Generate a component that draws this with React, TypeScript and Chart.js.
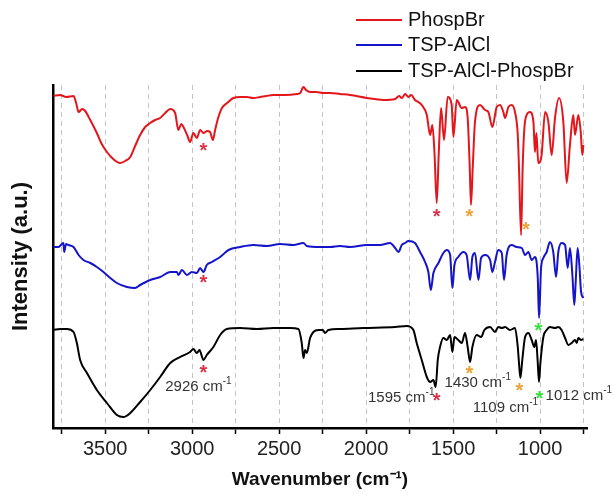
import React, { useEffect, useRef } from 'react';
import { Chart, registerables } from 'chart.js';

Chart.register(...registerables);

const FONT = '"Liberation Sans", Arial, Helvetica, sans-serif';
const W = 613;
const H = 494;

// ---- Series metadata ----
const seriesLabels = ['PhospBr', 'TSP-AlCl', 'TSP-AlCl-PhospBr'];
const seriesColors = ['#e3161c', '#1414c8', '#000000'];

// ---- PhospBr (red) : wavenumber / intensity (a.u.) ----
const phospBrWn = [
  3797, 3759, 3724, 3682, 3667, 3653, 3632, 3615, 3586, 3548,
  3523, 3490, 3454, 3414, 3385, 3356, 3328, 3299, 3270, 3241,
  3213, 3184, 3155, 3126, 3098, 3079, 3063, 3050, 3029, 3012,
  2993, 2973, 2954, 2935, 2914, 2897, 2881, 2868, 2849, 2829,
  2799, 2763, 2724, 2686, 2649, 2609, 2575, 2533, 2466, 2398,
  2379, 2360, 2345, 2322, 2287, 2245, 2207, 2150, 2092, 1996,
  1901, 1833, 1810, 1795, 1775, 1757, 1740, 1719, 1700, 1680,
  1651, 1632, 1619, 1607, 1594, 1582, 1569, 1552, 1531, 1508,
  1498, 1479, 1450, 1431, 1416, 1404, 1397, 1387, 1374, 1345,
  1316, 1297, 1274, 1249, 1230, 1211, 1201, 1182, 1163, 1144,
  1128, 1121, 1109, 1100, 1090, 1077, 1058, 1038, 1029, 1021,
  1010, 991, 971, 952, 933, 914, 891, 866, 847, 828,
  809, 799, 780, 766, 757, 751,
];
const phospBrVal = [
  332, 333, 331, 332, 325, 316, 319, 317, 308, 295,
  285, 276, 269, 265, 267, 271, 282, 293, 301, 305,
  308, 310, 315, 319, 315, 298, 304, 301, 293, 286,
  295, 290, 298, 295, 297, 296, 288, 298, 311, 320,
  325, 330, 331, 331, 330, 331, 332, 333, 333, 334,
  335, 341, 338, 336, 336, 335, 335, 334, 333, 330,
  328, 329, 332, 330, 334, 331, 333, 328, 326, 323,
  313, 293, 303, 276, 225, 276, 320, 288, 331, 323,
  291, 328, 320, 321, 310, 260, 223, 260, 306, 323,
  318, 316, 301, 321, 323, 316, 310, 321, 323, 316,
  293, 260, 193, 260, 300, 313, 316, 306, 276, 295,
  265, 273, 316, 306, 273, 310, 330, 306, 245, 283,
  313, 293, 313, 296, 273, 283,
];

// ---- TSP-AlCl (blue) ----
const tspWn = [
  3797, 3769, 3740, 3736, 3725, 3711, 3682, 3653, 3625, 3586,
  3548, 3510, 3471, 3433, 3375, 3328, 3299, 3241, 3184, 3126,
  3088, 3079, 3059, 3030, 3002, 2973, 2954, 2935, 2916, 2887,
  2839, 2791, 2724, 2648, 2571, 2494, 2418, 2360, 2341, 2264,
  2207, 2150, 2092, 1996, 1920, 1862, 1833, 1814, 1795, 1776,
  1757, 1719, 1690, 1661, 1642, 1628, 1613, 1584, 1556, 1536,
  1517, 1504, 1492, 1470, 1441, 1422, 1402, 1389, 1374, 1354,
  1339, 1316, 1287, 1274, 1259, 1240, 1220, 1207, 1192, 1163,
  1134, 1105, 1086, 1067, 1048, 1029, 1013, 1006, 994, 981,
  962, 943, 924, 908, 895, 876, 856, 841, 828, 814,
  803, 795, 784, 774, 764, 751,
];
const tspVal = [
  181, 181, 185, 176, 184, 183, 181, 173, 168, 165,
  161, 156, 150, 145, 141, 140, 143, 148, 151, 156,
  156, 153, 158, 153, 156, 155, 160, 156, 163, 166,
  171, 178, 181, 183, 182, 184, 183, 185, 182, 181,
  181, 182, 181, 183, 183, 185, 180, 176, 183, 185,
  187, 185, 176, 166, 156, 138, 155, 165, 175, 178,
  173, 140, 163, 171, 176, 173, 148, 171, 175, 148,
  170, 173, 168, 156, 166, 178, 175, 148, 173, 183,
  181, 180, 173, 176, 168, 171, 150, 110, 160, 170,
  176, 186, 176, 151, 176, 185, 183, 160, 180, 153,
  123, 146, 180, 163, 136, 130,
];

// ---- TSP-AlCl-PhospBr (black) ----
const hybridWn = [
  3797, 3759, 3720, 3682, 3663, 3644, 3605, 3548, 3490, 3433,
  3395, 3356, 3299, 3241, 3184, 3126, 3069, 3012, 2993, 2973,
  2958, 2935, 2916, 2878, 2839, 2801, 2724, 2628, 2533, 2437,
  2389, 2370, 2360, 2351, 2341, 2322, 2303, 2274, 2249, 2236,
  2217, 2150, 2016, 1833, 1766, 1728, 1709, 1680, 1651, 1632,
  1613, 1600, 1588, 1575, 1556, 1536, 1517, 1504, 1492, 1470,
  1450, 1431, 1416, 1402, 1389, 1364, 1339, 1320, 1287, 1259,
  1240, 1220, 1201, 1173, 1144, 1128, 1121, 1113, 1102, 1086,
  1067, 1048, 1033, 1023, 1014, 1006, 998, 981, 962, 943,
  914, 895, 876, 856, 837, 818, 799, 789, 780, 764,
  751,
];
const hybridVal = [
  98, 99, 99, 96, 85, 68, 55, 38, 25, 13,
  11, 15, 26, 38, 51, 65, 71, 76, 79, 75,
  78, 68, 73, 81, 93, 99, 100, 99, 100, 100,
  99, 85, 70, 78, 75, 90, 96, 98, 98, 95,
  98, 99, 100, 101, 102, 98, 85, 68, 51, 46,
  48, 41, 68, 81, 90, 88, 93, 76, 91, 88,
  85, 95, 81, 66, 81, 93, 91, 98, 101, 96,
  101, 100, 101, 98, 100, 81, 65, 50, 68, 91,
  95, 88, 81, 88, 68, 46, 65, 91, 98, 101,
  100, 101, 98, 90, 83, 85, 88, 85, 90, 88,
  89,
];

// ---- Axis ----
const X_MAX = 3800;
const X_MIN = 730;
const Y_MIN = 0;
const Y_MAX = 343;
const xTicks = [3750, 3500, 3250, 3000, 2750, 2500, 2250, 2000, 1750, 1500, 1250, 1000, 750];
const xLabels = [3500, 3000, 2500, 2000, 1500, 1000];

// ---- Annotations (data coordinates: wavenumber, intensity) ----
const STAR_RED = '#d8334a';
const STAR_ORANGE = '#eea236';
const STAR_GREEN = '#36e03c';
const starWn = [2935, 1594, 1406, 1081, 2935, 1010, 2935, 1406, 1594, 1119, 1004];
const starVal = [281, 215, 215, 202, 149, 101, 59, 58, 31, 41, 33];
const starColor = [STAR_RED, STAR_RED, STAR_ORANGE, STAR_ORANGE, STAR_RED, STAR_GREEN, STAR_RED, STAR_ORANGE, STAR_RED, STAR_ORANGE, STAR_GREEN];

const peakNum = ['2926', '1430', '1595', '1109', '1012'];
const peakWn = [2964, 1358, 1607, 1199, 968];
const peakVal = [41, 45, 30, 20, 32];
const peakAlign = ['center', 'center', 'right', 'center', 'left'];

const legendRowY = [20, 45, 71];

const annoPlugin = {
  id: 'ftirAnnotations',
  afterDraw(chart: any) {
    const { ctx } = chart;
    const xs = chart.scales.x;
    const ys = chart.scales.y;
    ctx.save();

    // asterisks
    ctx.font = `bold 20px ${FONT}`;
    ctx.textAlign = 'center';
    ctx.textBaseline = 'alphabetic';
    const m = ctx.measureText('*');
    const asc = m.actualBoundingBoxAscent;
    const desc = m.actualBoundingBoxDescent;
    starWn.forEach((wn, i) => {
      const px = xs.getPixelForValue(wn);
      const py = ys.getPixelForValue(starVal[i]);
      ctx.fillStyle = starColor[i];
      ctx.fillText('*', px, py + (asc - desc) / 2);
    });

    // peak labels with superscript
    peakNum.forEach((num, i) => {
      const px = xs.getPixelForValue(peakWn[i]);
      const py = ys.getPixelForValue(peakVal[i]);
      const main = `${num} cm`;
      ctx.font = `15px ${FONT}`;
      const wMain = ctx.measureText(main).width;
      ctx.font = `10px ${FONT}`;
      const wSup = ctx.measureText('-1').width;
      const total = wMain + wSup;
      const al = peakAlign[i];
      const left = al === 'left' ? px : al === 'right' ? px - total : px - total / 2;
      ctx.fillStyle = '#333';
      ctx.textAlign = 'left';
      ctx.textBaseline = 'middle';
      ctx.font = `15px ${FONT}`;
      ctx.fillText(main, left, py);
      ctx.font = `10px ${FONT}`;
      ctx.fillText('-1', left + wMain, py - 6);
    });

    // legend
    seriesLabels.forEach((lab, i) => {
      const y = legendRowY[i];
      ctx.strokeStyle = seriesColors[i];
      ctx.lineWidth = 2;
      ctx.beginPath();
      ctx.moveTo(356, y);
      ctx.lineTo(402, y);
      ctx.stroke();
      ctx.fillStyle = '#111';
      ctx.font = `20px ${FONT}`;
      ctx.textAlign = 'left';
      ctx.textBaseline = 'middle';
      ctx.fillText(lab, 408, y);
    });

    ctx.restore();
  },
};

export default function App() {
  const ref = useRef<HTMLCanvasElement>(null);

  useEffect(() => {
    const canvas = ref.current;
    if (!canvas) return;
    const toPts = (wn: number[], v: number[]) => wn.map((w, i) => ({ x: w, y: v[i] }));
    const chart = new Chart(canvas, {
      type: 'line',
      data: {
        datasets: [
          { label: seriesLabels[0], data: toPts(phospBrWn, phospBrVal), borderColor: seriesColors[0] },
          { label: seriesLabels[1], data: toPts(tspWn, tspVal), borderColor: seriesColors[1] },
          { label: seriesLabels[2], data: toPts(hybridWn, hybridVal), borderColor: seriesColors[2] },
        ],
      },
      options: {
        responsive: false,
        animation: false,
        devicePixelRatio: 1,
        layout: { padding: { left: 0, right: 26, top: 85, bottom: 0 } },
        plugins: { legend: { display: false }, tooltip: { enabled: false } },
        elements: {
          point: { radius: 0 },
          line: { tension: 0.4, cubicInterpolationMode: 'monotone', borderWidth: 2, fill: false },
        },
        scales: {
          x: {
            type: 'linear',
            reverse: true,
            min: X_MIN,
            max: X_MAX,
            afterBuildTicks: (s: any) => {
              s.ticks = xTicks.map((v) => ({ value: v }));
            },
            afterFit: (s: any) => {
              s.height = 66;
            },
            ticks: {
              autoSkip: false,
              maxRotation: 0,
              padding: 3,
              color: '#222',
              font: { family: FONT, size: 20 },
              callback: (v: any) => (xLabels.includes(Number(v)) ? String(v) : ''),
            },
            grid: {
              color: '#c4c4c4',
              lineWidth: 1,
              tickColor: '#000',
              tickLength: 6,
              tickWidth: 1.5,
              drawOnChartArea: true,
            },
            border: { display: true, color: '#000', width: 2.5, dash: [5, 4] },
            title: {
              display: true,
              text: 'Wavenumber (cm⁻¹)',
              color: '#111',
              font: { family: FONT, size: 19, weight: 'bold' },
              padding: { top: 0, bottom: 3 },
            },
          },
          y: {
            min: Y_MIN,
            max: Y_MAX,
            afterFit: (s: any) => {
              s.width = 53;
            },
            ticks: { display: false },
            grid: { display: false },
            border: { display: true, color: '#000', width: 2.5 },
            title: {
              display: true,
              text: 'Intensity (a.u.)',
              color: '#111',
              font: { family: FONT, size: 22, weight: 'bold' },
              padding: { top: 8, bottom: 0 },
            },
          },
        },
      },
      plugins: [annoPlugin],
    } as any);
    return () => chart.destroy();
  }, []);

  return (
    <div style={{ position: 'fixed', left: 0, top: 0, width: W, height: H, background: '#fff' }}>
      <canvas ref={ref} width={W} height={H} style={{ display: 'block' }} />
    </div>
  );
}
